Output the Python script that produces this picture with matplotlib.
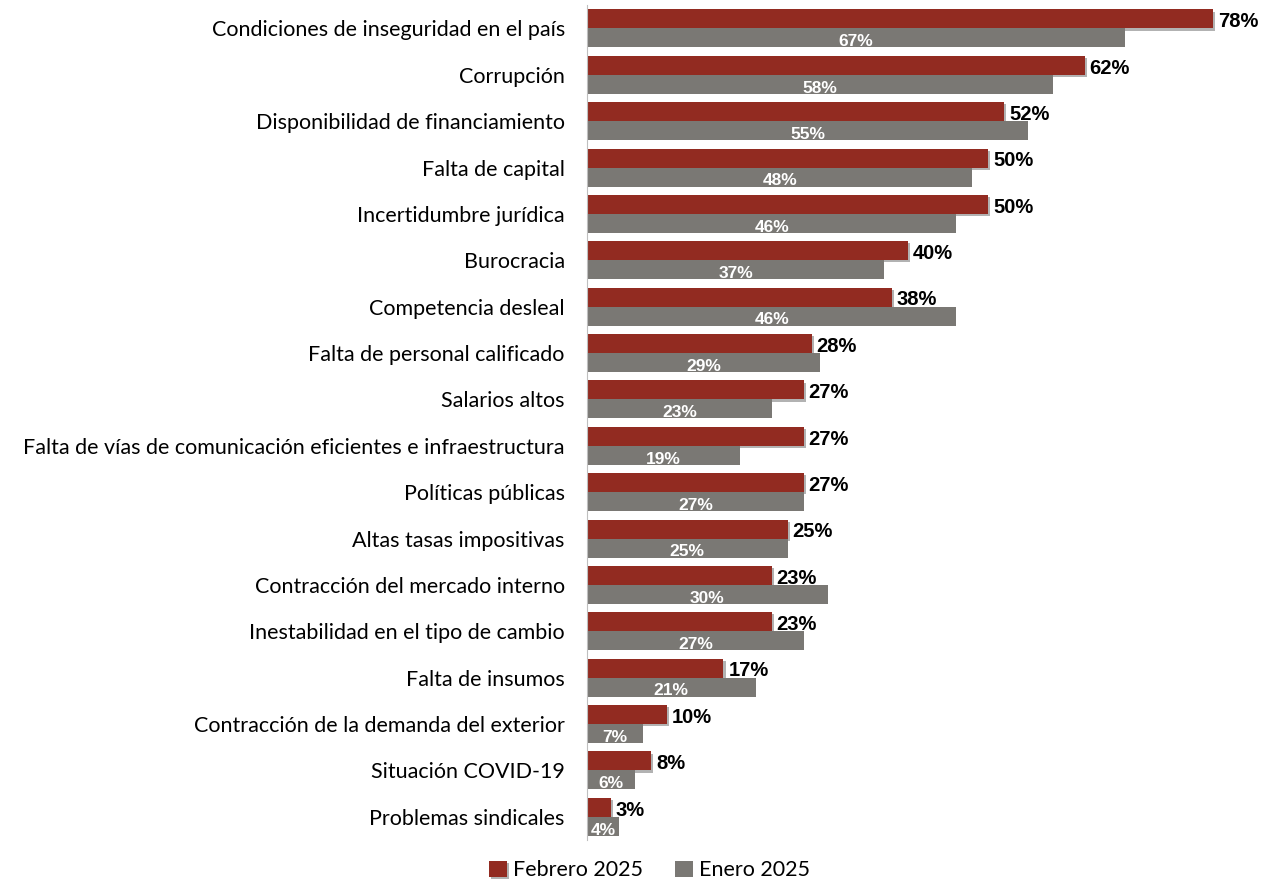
import matplotlib
matplotlib.use('Agg')
import matplotlib.pyplot as plt
import matplotlib.patheffects as pe
import numpy as np

categories = ['Condiciones de inseguridad en el país', 'Corrupción',
              'Disponibilidad de financiamiento', 'Falta de capital',
              'Incertidumbre jurídica', 'Burocracia', 'Competencia desleal',
              'Falta de personal calificado', 'Salarios altos',
              'Falta de vías de comunicación eficientes e infraestructura',
              'Políticas públicas', 'Altas tasas impositivas',
              'Contracción del mercado interno', 'Inestabilidad en el tipo de cambio',
              'Falta de insumos', 'Contracción de la demanda del exterior',
              'Situación COVID-19', 'Problemas sindicales']
feb_2025 = [78, 62, 52, 50, 50, 40, 38, 28, 27, 27, 27, 25, 23, 23, 17, 10, 8, 3]
ene_2025 = [67, 58, 55, 48, 46, 37, 46, 29, 23, 19, 27, 25, 30, 27, 21, 7, 6, 4]

red = '#922B21'
gray = '#7A7874'

plt.rcParams['font.family'] = ['Lato', 'DejaVu Sans']

fig = plt.figure(figsize=(12.69, 8.81), dpi=100)
ax = fig.add_axes([0.4626, 0.0465, 0.506, 0.9475])

y = np.arange(len(categories))
h = 0.41
shadow = [pe.SimplePatchShadow(offset=(1.5, -1.5), shadow_rgbFace='#555555', alpha=0.45), pe.Normal()]
b1 = ax.barh(y - h / 2, feb_2025, height=h, color=red, label='Febrero 2025', path_effects=shadow)
b2 = ax.barh(y + h / 2, ene_2025, height=h, color=gray, label='Enero 2025')

for i in range(len(categories)):
    ax.text(feb_2025[i] + 0.6, y[i] - h / 2 + 0.06, f'{feb_2025[i]}%', va='center', ha='left',
            fontsize=14.5, fontweight='bold', color='black', family='Liberation Sans')
    ax.text(ene_2025[i] / 2, y[i] + h / 2 + 0.08, f'{ene_2025[i]}%', va='center', ha='center',
            fontsize=12.5, fontweight='bold', color='white', family='Liberation Sans')

ax.set_xlim(0, 80)
ax.set_ylim(len(categories) - 0.5, -0.5)
ax.set_yticks(y)
ax.set_yticklabels(categories, fontsize=15.5)
ax.tick_params(axis='y', length=0, pad=16)
ax.set_xticks([])
for s in ['top', 'right', 'bottom']:
    ax.spines[s].set_visible(False)
ax.spines['left'].set_color('#BFBFBF')

fig.legend(handles=[b1, b2], loc='center', bbox_to_anchor=(0.512, 0.012), ncol=2, frameon=False,
           fontsize=15.5, handlelength=0.8, handleheight=0.8, handletextpad=0.3, columnspacing=1.5)

fig.savefig('out.png', dpi=100)
